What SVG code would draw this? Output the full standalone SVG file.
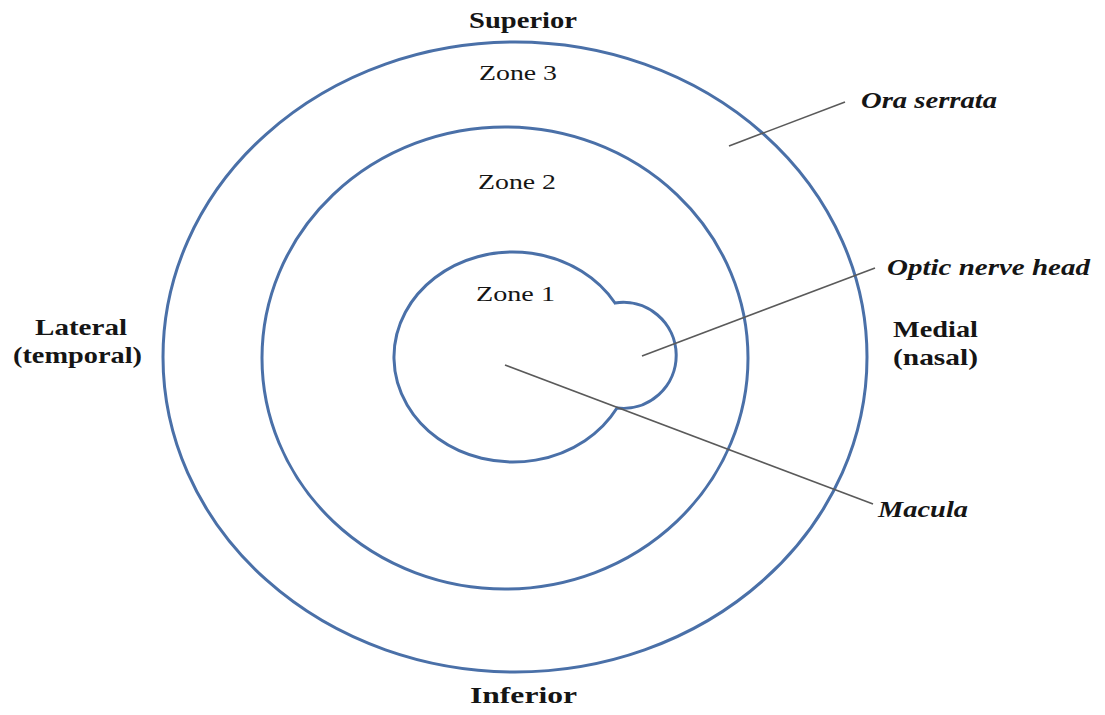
<svg xmlns="http://www.w3.org/2000/svg" width="1105" height="715" viewBox="0 0 1105 715">
<style>
.zone{fill:none;stroke:#4a70a8;stroke-width:3}
.lead{stroke:#5a5a5a;stroke-width:1.6;fill:none}
text{font-family:"Liberation Serif","Times New Roman",serif;fill:#151515}
.b{font-weight:bold;font-size:23px}
.bi{font-weight:bold;font-style:italic;font-size:23px}
.z{font-size:22px}
</style>
<rect width="1105" height="715" fill="#ffffff"/>
<g id="zone3"><ellipse class="zone" cx="515" cy="357" rx="352" ry="315"/></g>
<g id="zone2"><ellipse class="zone" cx="505" cy="358" rx="243" ry="231"/></g>
<g id="zone1"><path class="zone" d="M615 303 A53 53 0 1 1 617 408 A119 105 0 1 1 615 303 Z"/></g>
<g id="connectors">
<line class="lead" x1="729" y1="146" x2="845" y2="102"/>
<line class="lead" x1="642" y1="356" x2="875" y2="268"/>
<line class="lead" x1="505" y1="365" x2="873" y2="504"/>
</g>
<g id="labels">
<text class="b" x="469" y="28" textLength="108" lengthAdjust="spacingAndGlyphs">Superior</text>
<text class="b" x="470" y="703" textLength="107" lengthAdjust="spacingAndGlyphs">Inferior</text>
<text class="b" x="35" y="335" textLength="92" lengthAdjust="spacingAndGlyphs">Lateral</text>
<text class="b" x="13" y="363" textLength="129" lengthAdjust="spacingAndGlyphs">(temporal)</text>
<text class="b" x="893" y="337" textLength="85" lengthAdjust="spacingAndGlyphs">Medial</text>
<text class="b" x="893" y="365" textLength="85" lengthAdjust="spacingAndGlyphs">(nasal)</text>
<text class="z" x="479" y="80" textLength="78" lengthAdjust="spacingAndGlyphs">Zone 3</text>
<text class="z" x="478" y="189" textLength="78" lengthAdjust="spacingAndGlyphs">Zone 2</text>
<text class="z" x="476" y="301" textLength="79" lengthAdjust="spacingAndGlyphs">Zone 1</text>
<text class="bi" x="861" y="108" textLength="136" lengthAdjust="spacingAndGlyphs">Ora serrata</text>
<text class="bi" x="887" y="275" textLength="203" lengthAdjust="spacingAndGlyphs">Optic nerve head</text>
<text class="bi" x="878" y="517" textLength="90" lengthAdjust="spacingAndGlyphs">Macula</text>
</g>
</svg>
